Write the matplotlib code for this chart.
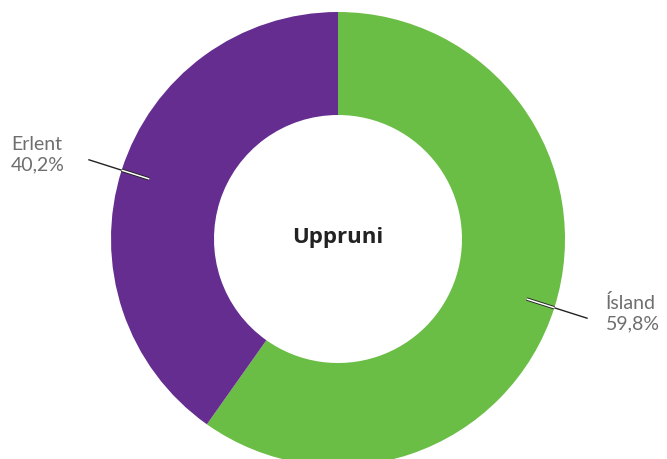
import numpy as np
import matplotlib
matplotlib.use("Agg")
import matplotlib.pyplot as plt

# data
labels = ["Ísland", "Erlent"]
values = [59.8, 40.2]
value_text = ["59,8%", "40,2%"]
colors = ["#6abd45", "#652d8f"]
title = "Uppruni"

W, H = 667, 459
fig = plt.figure(figsize=(W / 100, H / 100), dpi=100)
ax = fig.add_axes([0, 0, 1, 1])
ax.set_xlim(0, W)
ax.set_ylim(0, H)
ax.set_aspect("equal")
ax.axis("off")

cx, cy = 338, 220
R, r_in = 227, 124

wedges, _ = ax.pie(values, colors=colors, center=(cx, cy), radius=R,
                   startangle=90, counterclock=False,
                   wedgeprops=dict(width=R - r_in, linewidth=0))
ax.set_xlim(0, W)
ax.set_ylim(0, H)

ax.text(cx, cy + 2, title, ha="center", va="center", fontsize=16,
        fontweight="bold", color="#222222", family="Open Sans")

# leader lines + labels
for w, lab, vt in zip(wedges, labels, value_text):
    ang = np.deg2rad((w.theta1 + w.theta2) / 2)
    c, s = np.cos(ang), np.sin(ang)
    r0, r1, r2 = 198, R, 262
    ax.plot([cx + r1 * c, cx + r2 * c], [cy + r1 * s, cy + r2 * s],
            color="#222222", lw=1.0, solid_capstyle="butt")
    ax.plot([cx + r0 * c, cx + r1 * c], [cy + r0 * s, cy + r1 * s],
            color="#222222", lw=2.4, solid_capstyle="butt")
    ax.plot([cx + r0 * c, cx + r1 * c], [cy + r0 * s, cy + r1 * s],
            color="white", lw=1.1, solid_capstyle="butt")
    if c < 0:
        tx = 11
    else:
        tx = 606
    ty = cy + r2 * s
    ax.text(tx, ty + 5, lab + "\n" + vt, ha="left", va="center",
            fontsize=14, color="#6e6e6e", family="Lato",
            fontweight="normal", linespacing=1.2)

fig.savefig("out.png", dpi=100)
